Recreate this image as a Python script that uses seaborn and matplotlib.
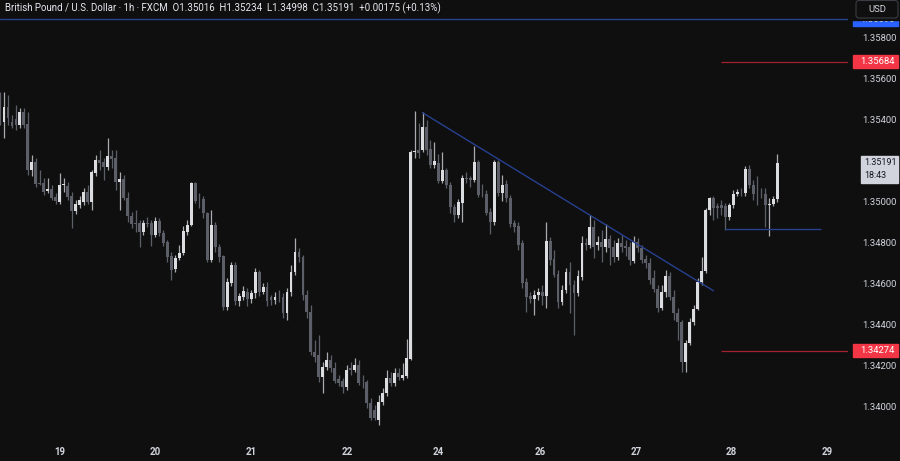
import matplotlib
matplotlib.use("Agg")
import matplotlib.pyplot as plt
from matplotlib.patches import Rectangle, FancyBboxPatch
from matplotlib.transforms import IdentityTransform
import numpy as np
import seaborn as sns

# GBPUSD 1h candles (FXCM)
opens = [
    1.35473, 1.35389, 1.35463, 1.35389, 1.35404, 1.35375, 1.35438, 1.35380, 1.35155, 1.35194,
    1.35092, 1.35092, 1.35053, 1.35063, 1.35024, 1.34999, 1.35083, 1.35078, 1.35029, 1.34955,
    1.34984, 1.34999, 1.35048, 1.34999, 1.35140, 1.35204, 1.35194, 1.35170, 1.35224, 1.35214,
    1.35097, 1.35111, 1.35019, 1.34931, 1.34896, 1.34896, 1.34853, 1.34896, 1.34896, 1.34839,
    1.34906, 1.34848, 1.34804, 1.34736, 1.34672, 1.34726, 1.34750, 1.34853, 1.34887, 1.35092,
    1.35009, 1.35014, 1.34945, 1.34716, 1.34887, 1.34780, 1.34736, 1.34487, 1.34604, 1.34692,
    1.34516, 1.34536, 1.34560, 1.34526, 1.34555, 1.34657, 1.34560, 1.34585, 1.34536, 1.34521,
    1.34536, 1.34536, 1.34458, 1.34560, 1.34657, 1.34755, 1.34731, 1.34546, 1.34463, 1.34267,
    1.34253, 1.34145, 1.34194, 1.34228, 1.34189, 1.34136, 1.34126, 1.34096, 1.34189, 1.34179,
    1.34204, 1.34121, 1.34121, 1.34018, 1.33984, 1.33935, 1.34023, 1.34067, 1.34140, 1.34116,
    1.34165, 1.34140, 1.34150, 1.34233, 1.35243, 1.35253, 1.35253, 1.35365, 1.35258, 1.35180,
    1.35189, 1.35102, 1.35155, 1.35083, 1.34975, 1.34936, 1.34994, 1.35116, 1.35116, 1.35107,
    1.35194, 1.35038, 1.35038, 1.34950, 1.34901, 1.35194, 1.35043, 1.35087, 1.35019, 1.34896,
    1.34882, 1.34799, 1.34609, 1.34541, 1.34526, 1.34546, 1.34560, 1.34541, 1.34809, 1.34721,
    1.34648, 1.34511, 1.34570, 1.34657, 1.34594, 1.34555, 1.34633, 1.34799, 1.34790, 1.34877,
    1.34790, 1.34804, 1.34780, 1.34819, 1.34780, 1.34731, 1.34799, 1.34785, 1.34780, 1.34711,
    1.34804, 1.34775, 1.34721, 1.34701, 1.34629, 1.34575, 1.34482, 1.34560, 1.34638, 1.34536,
    1.34458, 1.34414, 1.34218, 1.34311, 1.34414, 1.34477, 1.34609, 1.34662, 1.34960, 1.35019,
    1.34979, 1.34984, 1.34979, 1.34926, 1.34984, 1.35038, 1.35043, 1.35043, 1.35160, 1.35083,
    1.35038, 1.35038, 1.35038, 1.34984, 1.34989, 1.35016,
]
highs = [
    1.35536, 1.35536, 1.35522, 1.35424, 1.35473, 1.35458, 1.35458, 1.35438, 1.35229, 1.35214,
    1.35155, 1.35116, 1.35116, 1.35083, 1.35043, 1.35140, 1.35116, 1.35097, 1.35048, 1.35009,
    1.35029, 1.35068, 1.35083, 1.35155, 1.35229, 1.35253, 1.35214, 1.35312, 1.35253, 1.35253,
    1.35145, 1.35131, 1.35048, 1.34950, 1.34960, 1.34911, 1.34911, 1.34926, 1.34911, 1.34926,
    1.34921, 1.34863, 1.34814, 1.34755, 1.34741, 1.34790, 1.34882, 1.34911, 1.35095, 1.35095,
    1.35043, 1.35029, 1.34950, 1.34960, 1.34901, 1.34794, 1.34741, 1.34629, 1.34706, 1.34706,
    1.34555, 1.34589, 1.34580, 1.34570, 1.34677, 1.34667, 1.34604, 1.34609, 1.34546, 1.34560,
    1.34570, 1.34555, 1.34580, 1.34692, 1.34824, 1.34775, 1.34741, 1.34570, 1.34497, 1.34326,
    1.34350, 1.34218, 1.34267, 1.34253, 1.34218, 1.34155, 1.34140, 1.34204, 1.34218, 1.34238,
    1.34228, 1.34155, 1.34131, 1.34043, 1.34009, 1.34058, 1.34092, 1.34179, 1.34170, 1.34189,
    1.34189, 1.34214, 1.34331, 1.35253, 1.35443, 1.35384, 1.35438, 1.35399, 1.35302, 1.35292,
    1.35233, 1.35243, 1.35165, 1.35097, 1.34989, 1.35014, 1.35131, 1.35145, 1.35126, 1.35273,
    1.35204, 1.35087, 1.35058, 1.34969, 1.35204, 1.35204, 1.35131, 1.35107, 1.35034, 1.34911,
    1.34901, 1.34814, 1.34629, 1.34560, 1.34570, 1.34580, 1.34594, 1.34901, 1.34829, 1.34765,
    1.34667, 1.34594, 1.34677, 1.34706, 1.34619, 1.34667, 1.34834, 1.34824, 1.34936, 1.34911,
    1.34834, 1.34863, 1.34892, 1.34839, 1.34814, 1.34824, 1.34839, 1.34814, 1.34804, 1.34834,
    1.34824, 1.34790, 1.34741, 1.34726, 1.34667, 1.34594, 1.34594, 1.34667, 1.34657, 1.34570,
    1.34482, 1.34423, 1.34326, 1.34433, 1.34497, 1.34629, 1.34731, 1.34969, 1.35024, 1.35029,
    1.34994, 1.35009, 1.34994, 1.34994, 1.35058, 1.35063, 1.35068, 1.35175, 1.35180, 1.35107,
    1.35126, 1.35068, 1.35068, 1.35019, 1.35029, 1.35234,
]
lows = [
    1.35375, 1.35312, 1.35375, 1.35360, 1.35351, 1.35360, 1.35360, 1.35131, 1.35126, 1.35073,
    1.35083, 1.35034, 1.35043, 1.35009, 1.34989, 1.34989, 1.35048, 1.35009, 1.34872, 1.34940,
    1.34969, 1.34984, 1.34989, 1.34960, 1.35126, 1.35155, 1.35107, 1.35155, 1.35165, 1.35058,
    1.34960, 1.35009, 1.34901, 1.34872, 1.34853, 1.34780, 1.34839, 1.34877, 1.34785, 1.34829,
    1.34834, 1.34785, 1.34706, 1.34619, 1.34657, 1.34716, 1.34741, 1.34839, 1.34882, 1.34994,
    1.34969, 1.34921, 1.34706, 1.34706, 1.34755, 1.34706, 1.34472, 1.34472, 1.34589, 1.34497,
    1.34492, 1.34521, 1.34492, 1.34506, 1.34531, 1.34541, 1.34550, 1.34492, 1.34497, 1.34502,
    1.34511, 1.34433, 1.34423, 1.34541, 1.34643, 1.34706, 1.34521, 1.34433, 1.34253, 1.34218,
    1.34121, 1.34067, 1.34179, 1.34170, 1.34116, 1.34101, 1.34067, 1.34082, 1.34155, 1.34170,
    1.34106, 1.34092, 1.33994, 1.33935, 1.33935, 1.33911, 1.34009, 1.34053, 1.34101, 1.34101,
    1.34131, 1.34131, 1.34140, 1.34228, 1.35214, 1.35214, 1.35243, 1.35229, 1.35165, 1.35165,
    1.35092, 1.35092, 1.35068, 1.34945, 1.34901, 1.34921, 1.34901, 1.35092, 1.35073, 1.35097,
    1.35024, 1.35024, 1.34936, 1.34843, 1.34887, 1.35029, 1.35004, 1.34999, 1.34877, 1.34853,
    1.34765, 1.34580, 1.34463, 1.34506, 1.34448, 1.34521, 1.34497, 1.34482, 1.34692, 1.34633,
    1.34482, 1.34497, 1.34555, 1.34458, 1.34350, 1.34541, 1.34619, 1.34765, 1.34775, 1.34726,
    1.34765, 1.34706, 1.34755, 1.34692, 1.34706, 1.34716, 1.34755, 1.34736, 1.34692, 1.34701,
    1.34755, 1.34701, 1.34677, 1.34599, 1.34560, 1.34463, 1.34472, 1.34536, 1.34521, 1.34423,
    1.34326, 1.34170, 1.34170, 1.34301, 1.34399, 1.34472, 1.34594, 1.34653, 1.34936, 1.34911,
    1.34921, 1.34936, 1.34863, 1.34911, 1.34969, 1.35029, 1.35029, 1.35029, 1.35068, 1.35009,
    1.34984, 1.35019, 1.34877, 1.34834, 1.34979, 1.34998,
]
closes = [
    1.35399, 1.35463, 1.35409, 1.35370, 1.35375, 1.35438, 1.35375, 1.35155, 1.35194, 1.35087,
    1.35087, 1.35048, 1.35063, 1.35019, 1.35004, 1.35083, 1.35083, 1.35024, 1.34955, 1.34989,
    1.35009, 1.35048, 1.34999, 1.35145, 1.35204, 1.35189, 1.35170, 1.35224, 1.35209, 1.35097,
    1.35111, 1.35019, 1.34931, 1.34892, 1.34894, 1.34853, 1.34896, 1.34894, 1.34839, 1.34906,
    1.34848, 1.34799, 1.34731, 1.34667, 1.34726, 1.34750, 1.34858, 1.34887, 1.35092, 1.35004,
    1.35007, 1.34945, 1.34716, 1.34887, 1.34780, 1.34731, 1.34487, 1.34609, 1.34692, 1.34516,
    1.34541, 1.34565, 1.34526, 1.34555, 1.34657, 1.34560, 1.34585, 1.34516, 1.34521, 1.34536,
    1.34534, 1.34458, 1.34560, 1.34657, 1.34755, 1.34731, 1.34546, 1.34463, 1.34267, 1.34243,
    1.34145, 1.34194, 1.34228, 1.34189, 1.34126, 1.34116, 1.34096, 1.34179, 1.34179, 1.34204,
    1.34116, 1.34119, 1.34018, 1.33945, 1.33945, 1.34023, 1.34067, 1.34140, 1.34116, 1.34165,
    1.34145, 1.34155, 1.34238, 1.35243, 1.35248, 1.35238, 1.35365, 1.35253, 1.35180, 1.35199,
    1.35102, 1.35155, 1.35083, 1.34975, 1.34936, 1.34999, 1.35116, 1.35111, 1.35107, 1.35194,
    1.35034, 1.35036, 1.34945, 1.34901, 1.35194, 1.35043, 1.35083, 1.35019, 1.34892, 1.34877,
    1.34790, 1.34604, 1.34536, 1.34526, 1.34546, 1.34560, 1.34541, 1.34809, 1.34716, 1.34643,
    1.34511, 1.34570, 1.34657, 1.34594, 1.34555, 1.34638, 1.34799, 1.34790, 1.34877, 1.34780,
    1.34804, 1.34780, 1.34819, 1.34775, 1.34731, 1.34799, 1.34780, 1.34775, 1.34716, 1.34804,
    1.34775, 1.34716, 1.34701, 1.34619, 1.34575, 1.34482, 1.34560, 1.34638, 1.34536, 1.34458,
    1.34414, 1.34218, 1.34311, 1.34414, 1.34477, 1.34609, 1.34662, 1.34960, 1.35019, 1.34969,
    1.34969, 1.34969, 1.34926, 1.34984, 1.35038, 1.35048, 1.35041, 1.35160, 1.35083, 1.35038,
    1.35036, 1.35036, 1.34984, 1.34989, 1.35014, 1.35191,
]

day_labels = ["19", "20", "21", "22", "24", "26", "27", "28", "29"]
day_pos = [15, 39, 63, 87, 110, 135.5, 159.5, 183.5, 207.5]
# 1.35200 is hidden behind the last-price tag on the reference, so it is left out
price_ticks = [1.340, 1.342, 1.344, 1.346, 1.348, 1.350, 1.354, 1.356, 1.358]

# drawings
trend_x = [106, 179]
trend_y = [1.35435, 1.34566]
support_level = 1.34868
support_x = [182, 206]
red_levels = [1.35684, 1.34274]
red_start = 181
top_blue_level = 1.35890
last_price = 1.35191
countdown = "18:43"
header = ("British Pound / U.S. Dollar \u00b7 1h \u00b7 FXCM  O1.35016  H1.35234  "
          "L1.34998  C1.35191  +0.00175 (+0.13%)")

BG = "#0f0f0f"
UP = "#dcdde1"
UP_WICK = "#a9abb0"
DOWN = "#5c5f67"
TXT = "#d1d4dc"
RED = "#f23645"
RED_LINE = "#a3222d"
NAVY = "#27408f"

sns.set_theme(style="dark", rc={"axes.facecolor": BG, "figure.facecolor": BG})
plt.rcParams["font.family"] = ["Roboto", "DejaVu Sans"]

W, H = 900, 461
fig = plt.figure(figsize=(W / 100, H / 100), dpi=100)
ax = fig.add_axes([0, 21 / H, 848 / W, 440 / H])
ax.set_facecolor(BG)
for s in ax.spines.values():
    s.set_visible(False)
ax.grid(False)

o = np.array(opens)
h = np.array(highs)
l = np.array(lows)
c = np.array(closes)
idx = np.arange(len(c))
up = c >= o

ax.vlines(idx, l, h, colors=np.where(up, UP_WICK, DOWN), linewidth=0.9, zorder=2)
ax.bar(idx, np.maximum(np.abs(c - o), 0.00004), bottom=np.minimum(o, c), width=0.72,
       color=np.where(up, UP, DOWN), linewidth=0, zorder=3)

x_right = 848 / 3.986
ax.set_xlim(0, x_right)
ax.set_ylim(1.35985 - 440 * 0.0000488, 1.35985)

# trend line and levels
sns.lineplot(x=trend_x, y=trend_y, ax=ax, color=NAVY, linewidth=1.0, zorder=4)
ax.hlines(support_level, support_x[0], support_x[1], color=NAVY, linewidth=1.0, zorder=4)
ax.hlines(red_levels, red_start, x_right, color=RED_LINE, linewidth=0.9, zorder=4)
ax.axhline(top_blue_level, color=NAVY, linewidth=1.0, zorder=4)

ax.yaxis.tick_right()
ax.set_yticks(price_ticks)
ax.set_yticklabels([f"{v:.5f}" for v in price_ticks])
ax.tick_params(axis="y", length=0, pad=10, labelsize=6.8, labelcolor=TXT)
ax.set_xticks(day_pos)
ax.set_xticklabels(day_labels, fontweight="bold")
ax.tick_params(axis="x", length=0, pad=5, labelsize=7, labelcolor=TXT)

# price scale tags (pixel coords)
pix = IdentityTransform()
def ypix(price):
    return ax.transData.transform((0, price))[1]

for lvl in red_levels:
    yy = ypix(lvl)
    fig.add_artist(Rectangle((853, yy - 6.5), 45, 13, transform=pix, color=RED, zorder=5))
    fig.text(860, yy, f"{lvl:.5f}", transform=pix, color="white", fontsize=6.8,
             va="center", ha="left", zorder=6)

# blue level tag, mostly hidden under the header strip
yy = ypix(top_blue_level)
fig.add_artist(Rectangle((853, yy - 7), 45, 14, transform=pix, color="#2962ff", zorder=5))
fig.text(860, yy, f"{top_blue_level:.5f}", transform=pix, color="white", fontsize=6.8,
         va="center", ha="left", zorder=6)
fig.add_artist(Rectangle((849, H - 20), 51, 20, transform=pix, color=BG, zorder=7))

yy = ypix(last_price)
fig.add_artist(Rectangle((861, yy - 20), 37, 27, transform=pix, color=TXT, zorder=5))
fig.text(864, yy + 0.5, f"{last_price:.5f}", transform=pix, color="#131722", fontsize=6.5,
         va="center", ha="left", zorder=6)
fig.text(864, yy - 12.5, countdown, transform=pix, color="#131722", fontsize=6.5,
         va="center", ha="left", zorder=6)

# currency box and header
fig.add_artist(FancyBboxPatch((856, H - 18), 42, 17.5, boxstyle="round,pad=0,rounding_size=3",
                              transform=pix, facecolor=BG, edgecolor="#3a3d44", lw=0.8, zorder=8))
fig.text(877, H - 9, "USD", transform=pix, color=TXT, fontsize=6.8, ha="center", va="center", zorder=9)
fig.text(5, H - 8, header, transform=pix, color="#e6e8ee", fontsize=7.0, ha="left", va="center")

fig.savefig("out.png", dpi=100, facecolor=BG)
